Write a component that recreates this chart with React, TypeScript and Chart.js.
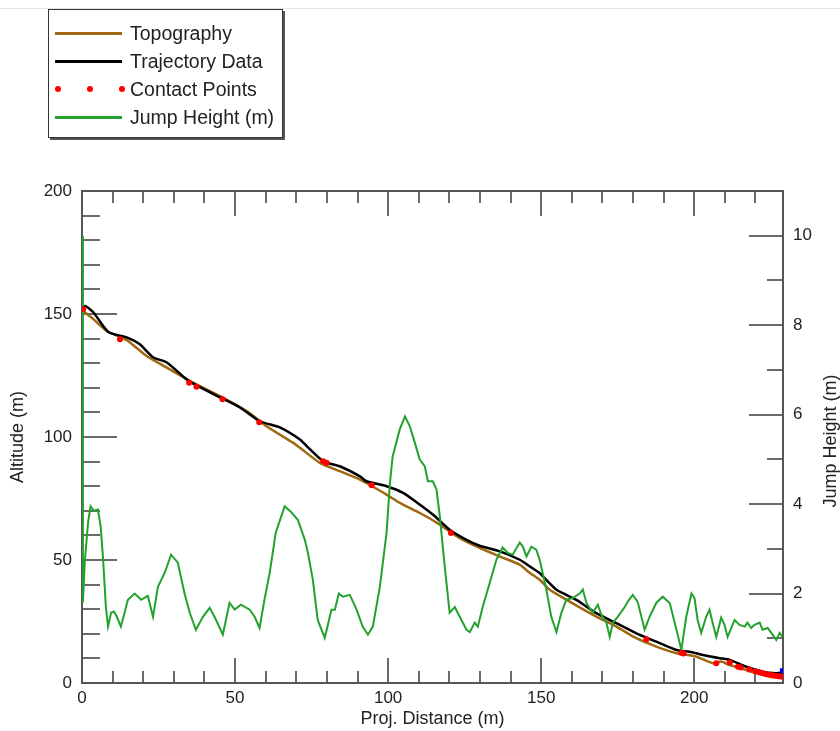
import React, { useEffect, useRef } from "react";
import { Chart, registerables } from "chart.js";

Chart.register(...registerables);

const FONT = '"Liberation Sans", Arial, Helvetica, sans-serif';
const BROWN = "rgb(160,104,16)";
const GREEN = "rgb(34,162,44)";
const RED = "#ff0000";

// Topography (altitude, m)
const topoX = [0, 0.4, 3.7, 8.1, 14.6, 21.1, 27.7, 36.3, 45.1, 53.8, 60.3, 69.0, 71.2, 77.7, 84.2, 90.8, 92.9, 99.5, 103.8, 110.4, 116.9, 123.4, 129.9, 136.5, 143.0, 146.3, 149.5, 152.8, 159.3, 168.0, 174.6, 181.1, 187.6, 194.2, 200.7, 206.1, 208.8, 211.6, 217.0, 222.4, 228.9];
const topoY = [151.5, 151.2, 147.9, 143.1, 139.4, 132.9, 128.2, 122.1, 116.6, 110.5, 104.4, 97.6, 95.6, 89.5, 86.1, 82.7, 81.3, 76.6, 73.2, 69.1, 64.4, 58.9, 54.9, 51.4, 48.1, 44.7, 42.0, 37.9, 33.1, 27.0, 22.9, 18.2, 14.8, 12.1, 10.7, 8.0, 8.7, 7.3, 5.3, 3.3, 2.6];

// Trajectory data (altitude, m)
const trajX = [0, 1, 3.7, 8.6, 14.6, 18.9, 23.2, 27.7, 34.2, 37.4, 45.1, 51.6, 58.1, 64.6, 71.2, 73.4, 78.8, 84.2, 90.8, 92.9, 99.5, 104.9, 110.4, 114.7, 120.1, 125.6, 129.9, 136.5, 143.0, 146.3, 149.5, 150.6, 155.0, 161.5, 168.0, 174.6, 181.1, 187.6, 194.2, 198.5, 202.8, 208.3, 211.6, 217.0, 222.4, 226.8, 228.9];
const trajY = [152.5, 153.3, 150.7, 142.7, 140.5, 137.7, 132.4, 130.3, 123.4, 121.0, 116.1, 112.0, 106.4, 103.9, 99.0, 96.3, 90.1, 88.1, 84.0, 82.0, 80.0, 77.3, 72.5, 68.4, 62.3, 58.2, 55.8, 53.5, 50.1, 47.4, 44.7, 43.3, 37.9, 33.8, 28.4, 24.3, 20.2, 16.8, 13.4, 12.7, 11.4, 10.1, 9.4, 6.6, 4.6, 4.0, 4.2];

// Contact points (altitude, m)
const contactX = [0.4, 12.4, 35.0, 37.4, 45.9, 57.9, 78.8, 79.9, 94.6, 120.5, 184.4, 195.8, 196.5, 207.2, 211.6, 214.3, 215.2, 218.0, 220.0, 221.2, 222.4, 223.5, 224.5, 225.3, 226.0, 226.8, 227.5, 228.2, 228.9];
const contactY = [152.0, 139.7, 122.1, 120.4, 115.3, 106.0, 90.1, 89.5, 80.4, 61.0, 17.8, 12.3, 12.0, 8.0, 8.3, 6.6, 6.3, 5.5, 4.8, 4.4, 4.0, 3.6, 3.4, 3.2, 3.0, 2.8, 2.7, 2.6, 2.6];

// End marker
const endX = [228.8];
const endY = [5.0];

// Jump height (m), right axis
const jumpX = [0, 0.3, 0.9, 2.0, 2.8, 3.9, 5.2, 6.1, 6.9, 7.8, 8.5, 9.5, 10.4, 11.4, 12.7, 13.9, 15.0, 17.2, 19.3, 21.5, 23.2, 24.8, 27.0, 29.1, 31.3, 33.5, 35.2, 37.2, 39.5, 41.7, 43.3, 46.0, 48.2, 49.9, 51.9, 54.8, 56.4, 58.0, 59.6, 61.3, 63.3, 66.2, 68.2, 70.5, 72.8, 73.8, 75.4, 77.0, 79.3, 81.5, 82.6, 83.9, 85.2, 87.5, 89.7, 91.7, 93.4, 95.0, 97.3, 99.5, 100.6, 101.5, 103.8, 105.5, 107.1, 108.7, 110.3, 112.0, 113.0, 114.6, 115.8, 116.9, 118.5, 120.1, 121.8, 123.4, 125.6, 126.7, 128.3, 129.3, 130.9, 133.2, 135.4, 137.4, 139.1, 140.7, 143.0, 144.0, 145.2, 146.8, 148.4, 149.5, 151.7, 153.3, 155.0, 156.6, 158.2, 160.3, 162.6, 163.6, 164.8, 166.8, 168.5, 169.7, 171.3, 172.4, 173.4, 175.0, 177.3, 178.3, 179.9, 181.5, 183.8, 185.4, 187.6, 189.7, 192.0, 194.2, 195.8, 197.4, 199.1, 200.1, 201.1, 202.3, 203.9, 205.0, 206.0, 207.2, 208.8, 209.9, 210.9, 213.2, 214.8, 216.5, 217.4, 218.6, 219.7, 221.4, 222.3, 224.0, 225.6, 226.8, 227.9, 228.9];
const jumpY = [10.0, 1.8, 2.7, 3.6, 3.95, 3.85, 3.88, 3.5, 2.76, 1.7, 1.26, 1.57, 1.6, 1.48, 1.26, 1.57, 1.86, 2.0, 1.86, 1.95, 1.48, 2.15, 2.46, 2.87, 2.69, 2.0, 1.57, 1.19, 1.48, 1.68, 1.48, 1.08, 1.79, 1.64, 1.75, 1.64, 1.48, 1.23, 1.86, 2.46, 3.36, 3.95, 3.83, 3.65, 3.2, 2.91, 2.31, 1.41, 1.01, 1.64, 1.64, 2.0, 1.93, 1.97, 1.64, 1.26, 1.08, 1.26, 2.15, 3.36, 4.48, 5.07, 5.67, 5.96, 5.74, 5.38, 5.0, 4.84, 4.51, 4.51, 4.33, 3.72, 2.6, 1.57, 1.7, 1.48, 1.19, 1.14, 1.35, 1.26, 1.7, 2.24, 2.76, 3.03, 2.91, 2.87, 3.14, 3.05, 2.83, 3.05, 2.98, 2.76, 2.09, 1.48, 1.14, 1.57, 1.86, 1.9, 2.0, 2.09, 1.79, 1.57, 1.75, 1.52, 1.35, 1.03, 1.35, 1.48, 1.7, 1.82, 1.97, 1.82, 1.19, 1.48, 1.79, 1.93, 1.79, 1.19, 0.74, 1.48, 2.0, 1.9, 1.41, 1.12, 1.48, 1.64, 1.35, 1.03, 1.46, 1.3, 1.03, 1.41, 1.3, 1.26, 1.35, 1.23, 1.3, 1.35, 1.19, 1.23, 1.08, 0.96, 1.12, 1.03];

const legendItems = ["Topography", "Trajectory Data", "Contact Points", "Jump Height (m)"];
const legendColors = [BROWN, "#000000", RED, GREEN];

const zip = (xs: number[], ys: number[]) => xs.map((x, i) => ({ x, y: ys[i] }));

const framePlugin = {
  id: "igorFrame",
  beforeDatasetsDraw(chart: any) {
    const { ctx, chartArea: a, scales } = chart;
    const sx = scales.x;
    const sy = scales.y;
    const sy1 = scales.y1;
    ctx.save();
    ctx.strokeStyle = "#6a6a6a";
    ctx.lineWidth = 2;
    ctx.beginPath();
    for (let v = 10; v <= 229; v += 10) {
      const px = Math.round(sx.getPixelForValue(v));
      const L = v % 50 === 0 ? 25 : 12;
      ctx.moveTo(px, a.bottom);
      ctx.lineTo(px, a.bottom - L);
      ctx.moveTo(px, a.top);
      ctx.lineTo(px, a.top + L);
    }
    for (let v = 10; v <= 200; v += 10) {
      const py = Math.round(sy.getPixelForValue(v));
      const L = v % 50 === 0 && v < 200 ? 35 : 18;
      ctx.moveTo(a.left, py);
      ctx.lineTo(a.left + L, py);
    }
    for (let v = 1; v <= 11; v += 1) {
      const py = Math.round(sy1.getPixelForValue(v));
      const L = v % 2 === 0 ? 34 : 16;
      ctx.moveTo(a.right, py);
      ctx.lineTo(a.right - L, py);
    }
    ctx.stroke();
    ctx.strokeStyle = "#555555";
    ctx.strokeRect(a.left, a.top, a.right - a.left, a.bottom - a.top);
    ctx.restore();
  },
  afterDraw(chart: any) {
    const { ctx, chartArea: a } = chart;
    ctx.save();
    ctx.fillStyle = "#222222";
    ctx.font = `18px ${FONT}`;
    ctx.translate(836, (a.top + a.bottom) / 2 + 4);
    ctx.rotate(-Math.PI / 2);
    ctx.textAlign = "center";
    ctx.textBaseline = "alphabetic";
    ctx.fillText("Jump Height (m)", 0, 0);
    ctx.restore();
  },
};

export default function App() {
  const ref = useRef<HTMLCanvasElement>(null);

  useEffect(() => {
    if (!ref.current) return;
    const tickFont = { family: FONT, size: 17 };
    const titleFont = { family: FONT, size: 18 };
    const noGrid = { display: false, drawTicks: false, tickLength: 0 };
    const chart = new Chart(ref.current, {
      type: "line",
      data: {
        datasets: [
          {
            label: "Contact Points",
            data: zip(contactX, contactY),
            showLine: false,
            pointRadius: 3,
            pointBorderWidth: 0,
            pointBackgroundColor: RED,
            borderColor: RED,
            yAxisID: "y",
            order: 0,
          },
          {
            label: "End",
            data: zip(endX, endY),
            showLine: false,
            pointStyle: "rect",
            pointRadius: 3.5,
            pointBorderWidth: 0,
            pointBackgroundColor: "#0000ff",
            borderColor: "#0000ff",
            yAxisID: "y",
            order: 0,
          },
          {
            label: "Jump Height (m)",
            data: zip(jumpX, jumpY),
            borderColor: GREEN,
            borderWidth: 2,
            pointRadius: 0,
            tension: 0,
            yAxisID: "y1",
            order: 1,
          },
          {
            label: "Trajectory Data",
            data: zip(trajX, trajY),
            borderColor: "#000000",
            borderWidth: 2.5,
            pointRadius: 0,
            tension: 0.2,
            yAxisID: "y",
            order: 2,
          },
          {
            label: "Topography",
            data: zip(topoX, topoY),
            borderColor: BROWN,
            borderWidth: 2.5,
            pointRadius: 0,
            tension: 0.2,
            yAxisID: "y",
            order: 3,
          },
        ],
      },
      options: {
        responsive: false,
        animation: false,
        events: [],
        layout: { padding: { top: 191, left: 0, right: 0, bottom: 0 } },
        plugins: { legend: { display: false }, tooltip: { enabled: false } },
        scales: {
          x: {
            type: "linear",
            position: "bottom",
            min: 0,
            max: 229,
            grid: noGrid,
            border: { display: false },
            ticks: { stepSize: 50, includeBounds: false, padding: 5, font: tickFont, color: "#222" },
            title: { display: true, text: "Proj. Distance (m)", font: titleFont, color: "#222", padding: { top: 0, bottom: 1 } },
            afterFit: (s: any) => { s.height = 48; },
          },
          y: {
            type: "linear",
            position: "left",
            min: 0,
            max: 200,
            grid: noGrid,
            border: { display: false },
            ticks: { stepSize: 50, includeBounds: false, padding: 10, font: tickFont, color: "#222" },
            title: { display: true, text: "Altitude (m)", font: titleFont, color: "#222", padding: { top: 7, bottom: 0 } },
            afterFit: (s: any) => { s.width = 82; },
          },
          y1: {
            type: "linear",
            position: "right",
            min: 0,
            max: 11,
            grid: noGrid,
            border: { display: false },
            ticks: { stepSize: 2, includeBounds: false, padding: 10, font: tickFont, color: "#222" },
            afterFit: (s: any) => { s.width = 57; },
          },
        },
      },
      plugins: [framePlugin],
    } as any);
    return () => chart.destroy();
  }, []);

  return (
    <div style={{ position: "absolute", left: 0, top: 0, width: 840, height: 731, background: "#fff", overflow: "hidden" }}>
      <div style={{ position: "absolute", left: 0, top: 8, width: 840, height: 0, borderTop: "1px solid #e4e4e4" }} />
      <canvas ref={ref} width={840} height={731} style={{ position: "absolute", left: 0, top: 0 }} />
      <div
        style={{
          position: "absolute",
          left: 48,
          top: 9,
          width: 233,
          height: 127,
          border: "1px solid #333",
          boxShadow: "2px 2px 0 #555",
          background: "#fff",
          fontFamily: FONT,
          fontSize: 19.5,
          color: "#222",
        }}
      >
        {legendItems.map((name, i) => (
          <div key={name} style={{ position: "absolute", left: 0, top: 23 + 28 * i, width: 233, height: 0 }}>
            {name === "Contact Points" ? (
              [0, 1, 2].map((k) => (
                <div
                  key={k}
                  style={{
                    position: "absolute",
                    left: 6 + 32 * k,
                    top: -3,
                    width: 6,
                    height: 6,
                    borderRadius: 3,
                    background: legendColors[i],
                  }}
                />
              ))
            ) : (
              <div style={{ position: "absolute", left: 6, top: -1.5, width: 67, height: 3, background: legendColors[i] }} />
            )}
            <div style={{ position: "absolute", left: 81, top: -12, lineHeight: "24px", whiteSpace: "nowrap" }}>{name}</div>
          </div>
        ))}
      </div>
    </div>
  );
}
